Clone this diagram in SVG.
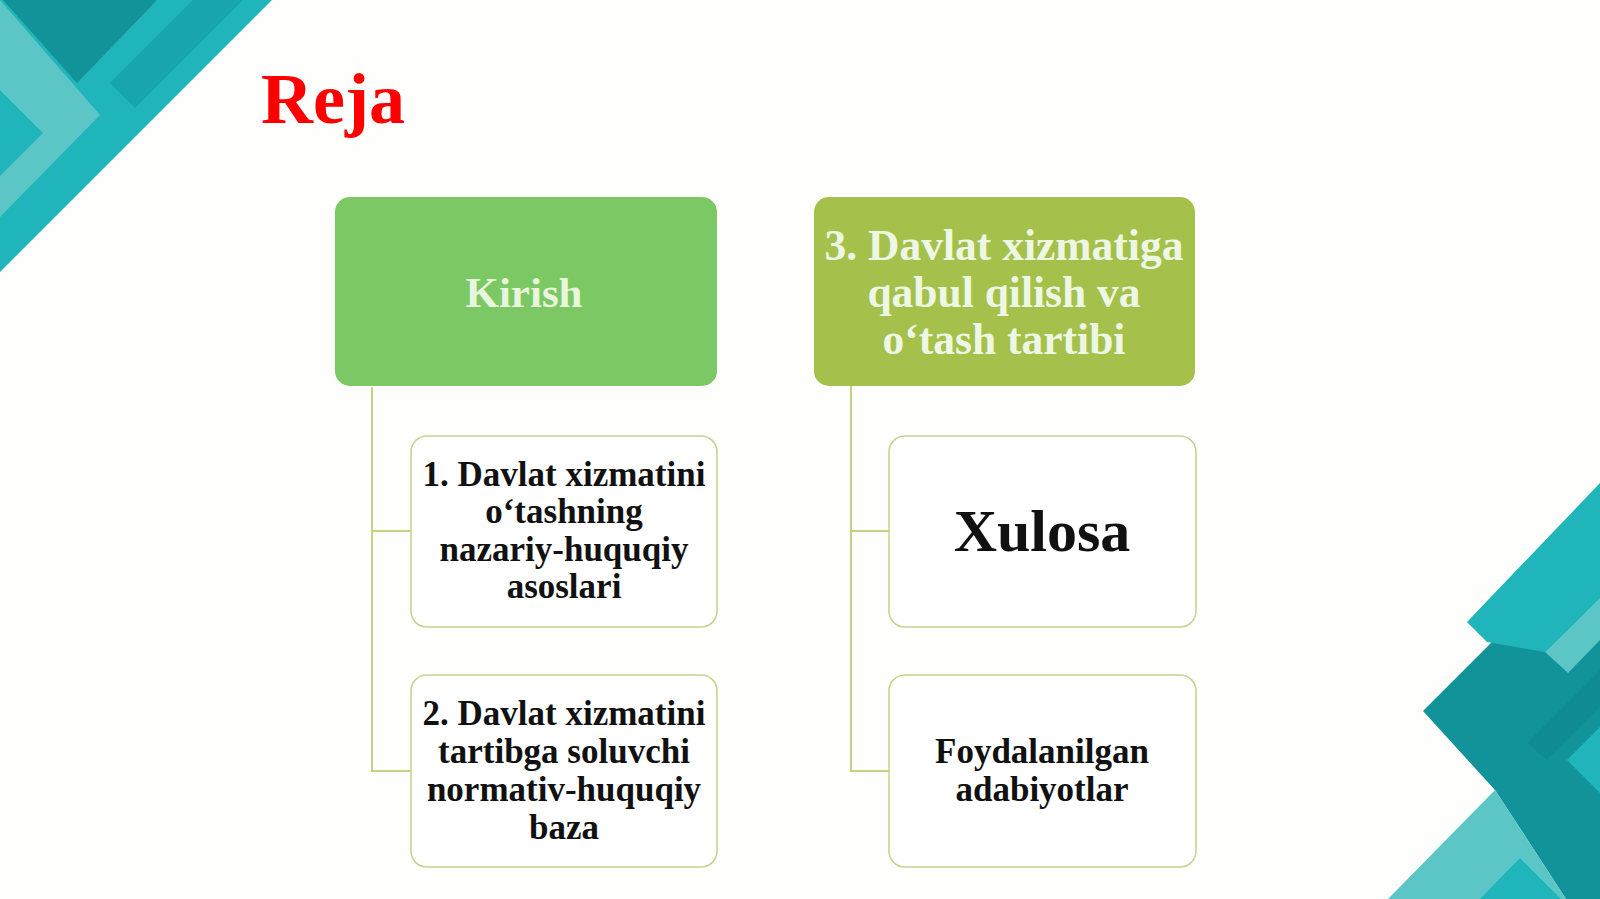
<svg xmlns="http://www.w3.org/2000/svg" width="1600" height="899" viewBox="0 0 1600 899">
<style>
.bg{fill:#FEFEFC}
.dk{fill:#12939A}
.br{fill:#1FB5BA}
.lt{fill:#5CC6C6}
.md{fill:#17A6AC}
.head{font-family:"Liberation Serif","Times New Roman",serif;font-weight:bold;text-anchor:middle}
.hdtxt{fill:#EEF7E4;font-size:43.5px}
.child{fill:#FFFFFF;stroke:#C5D58E;stroke-width:1.6}
.ctxt{fill:#111111;font-size:35px}
.conn{fill:none;stroke:#C3D383;stroke-width:2}
</style>
<rect class="bg" x="0" y="0" width="1600" height="899"/>
<g id="deco-top-left">
<polygon class="br" points="0,0 272,0 0,272"/>
<polygon class="lt" points="0,0 100,115 0,217"/>
<polygon class="dk" points="3,0 157,0 77,83"/>
<polygon class="br" points="0,90 43,133 0,176"/>
<polygon class="md" points="110,83 193,0 243,0 135,108"/>
</g>
<g id="deco-bottom-right">
<polygon class="dk" points="1423,711 1600,534 1600,899 1566,899 1495,790"/>
<polygon class="br" points="1600,483 1467,622 1487,642 1545,652 1600,598"/>
<polygon class="lt" points="1545,652 1600,598 1600,640 1568,673"/>
<polygon fill="#0F8C93" points="1527,743 1600,670 1600,707 1547,760"/>
<polygon class="br" points="1567,760 1600,727 1600,793"/>
<polygon class="lt" points="1388,899 1495,790 1566,899"/>
<polygon class="br" points="1480,899 1520,858 1561,899"/>
</g>
<text id="title" x="261" y="123" font-family="Liberation Serif, Times New Roman, serif" font-weight="bold" font-size="72" fill="#FF0000">Reja</text>
<g id="connectors">
<path class="conn" d="M372,387 V771 H411 M372,531 H411"/>
<path class="conn" d="M851,385 V771 H889 M851,531 H889"/>
</g>
<g id="node-kirish">
<rect x="335" y="197" width="382" height="189" rx="15" fill="#7CC865"/>
<text class="head" x="524" y="307" font-size="43" fill="#E8F6DC">Kirish</text>
</g>
<g id="node-3">
<rect x="814" y="197" width="381" height="189" rx="15" fill="#A5C14B"/>
<text class="head hdtxt" x="1004" y="260">3. Davlat xizmatiga</text>
<text class="head hdtxt" x="1004" y="307">qabul qilish va</text>
<text class="head hdtxt" x="1004" y="354">o‘tash tartibi</text>
</g>
<g id="node-1">
<rect class="child" x="411" y="436" width="306" height="191" rx="16"/>
<text class="head ctxt" x="564" y="486">1. Davlat xizmatini</text>
<text class="head ctxt" x="564" y="523">o‘tashning</text>
<text class="head ctxt" x="564" y="561">nazariy-huquqiy</text>
<text class="head ctxt" x="564" y="598">asoslari</text>
</g>
<g id="node-2">
<rect class="child" x="411" y="675" width="306" height="192" rx="16"/>
<text class="head ctxt" x="564" y="725">2. Davlat xizmatini</text>
<text class="head ctxt" x="564" y="763">tartibga soluvchi</text>
<text class="head ctxt" x="564" y="801">normativ-huquqiy</text>
<text class="head ctxt" x="564" y="839">baza</text>
</g>
<g id="node-xulosa">
<rect class="child" x="889" y="436" width="307" height="191" rx="16"/>
<text class="head" x="1042" y="551" font-size="60" fill="#111111">Xulosa</text>
</g>
<g id="node-foydalanilgan">
<rect class="child" x="889" y="675" width="307" height="192" rx="16"/>
<text class="head ctxt" x="1042" y="763">Foydalanilgan</text>
<text class="head ctxt" x="1042" y="801">adabiyotlar</text>
</g>
</svg>
